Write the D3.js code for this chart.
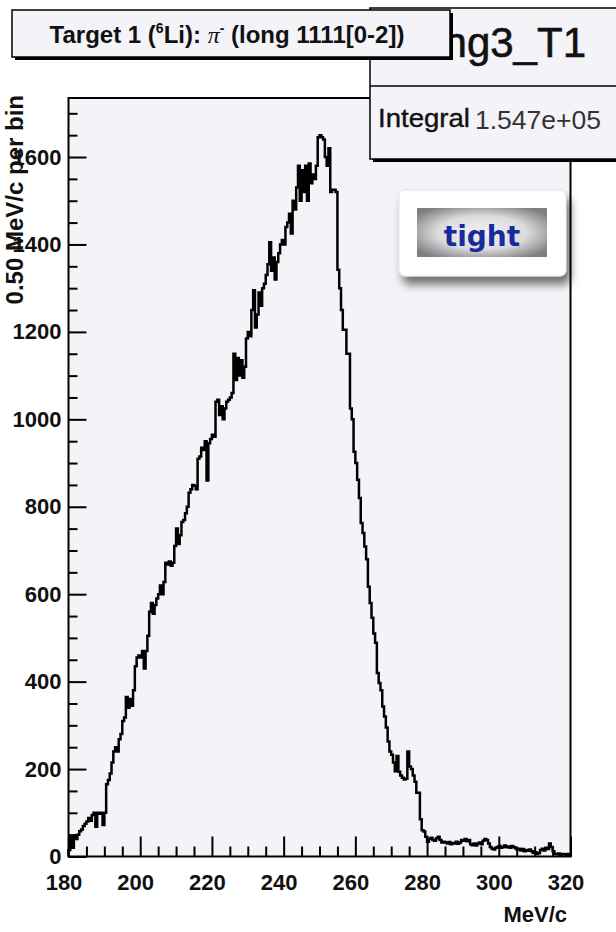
<!DOCTYPE html>
<html><head><meta charset="utf-8">
<script src="https://cdn.jsdelivr.net/npm/d3@7"></script>
<style>html,body{margin:0;padding:0;background:#fff;} svg{display:block;}</style>
</head><body><svg id="c" width="616" height="932"></svg>
<script>
// ---------- data ----------
const binLow = 180, binHigh = 320, binWidth = 0.5;
const counts = [
  15, 45, 20, 48, 40, 50, 58, 62, 70, 75,
  80, 88, 82, 95, 100, 68, 100, 98, 100, 72,
  100, 165, 175, 190, 215, 240, 250, 240, 268, 280,
  310, 318, 365, 340, 360, 345, 380, 435, 455, 460,
  455, 470, 430, 470, 505, 560, 580, 555, 575, 590,
  600, 620, 600, 628, 672, 668, 675, 665, 672, 710,
  750, 715, 735, 765, 770, 785, 800, 832, 840, 850,
  848, 840, 910, 915, 935, 930, 950, 860, 945, 955,
  965, 960, 1040, 1045, 1010, 1030, 1000, 1025, 1040, 1045,
  1050, 1060, 1150, 1090, 1140, 1100, 1135, 1095, 1120, 1185,
  1200, 1190, 1250, 1295, 1210, 1240, 1290, 1260, 1300, 1310,
  1330, 1355, 1405, 1340, 1370, 1320, 1360, 1380, 1400, 1410,
  1400, 1440, 1450, 1470, 1425, 1500, 1480, 1530, 1580, 1500,
  1570, 1520, 1580, 1500, 1585, 1540, 1560, 1550, 1580, 1645,
  1650, 1645, 1640, 1600, 1580, 1620, 1520, 1525, 1525, 1520,
  1342, 1300, 1250, 1205, 1205, 1150, 1150, 1025, 1000, 926,
  900, 862, 820, 763, 740, 709, 680, 617, 580, 546,
  510, 489, 420, 397, 380, 343, 320, 295, 263, 240,
  233, 215, 195, 230, 194, 185, 180, 176, 178, 240,
  206, 200, 185, 171, 146, 146, 85, 60, 57, 45,
  34, 40, 43, 38, 36, 42, 45, 38, 32, 34,
  32, 30, 33, 28, 31, 30, 34, 29, 32, 38,
  36, 40, 35, 38, 28, 26, 30, 25, 30, 32,
  28, 36, 40, 38, 30, 22, 18, 16, 20, 22,
  24, 20, 22, 25, 21, 23, 20, 24, 22, 19,
  16, 18, 14, 17, 12, 15, 13, 16, 12, 8,
  10, 6, 8, 15, 18, 14, 20, 17, 30, 22,
  12, 6, 5, 7, 4, 6, 5, 4, 6, 3
];
const xMajorTicks = [180, 200, 220, 240, 260, 280, 300, 320];
const xMinorTicks = d3.range(185, 320, 5).filter(v => v % 20 !== 0);
const yMajorTicks = [0, 200, 400, 600, 800, 1000, 1200, 1400, 1600];
const yMinorTicks = d3.range(50, 1701, 50).filter(v => v % 200 !== 0);
const yMax = 1735;
const xTitle = "MeV/c";
const yTitle = "0.50 MeV/c per bin";
const histName = "hg3_T1";
const integralLabel = "Integral";
const integralValue = "1.547e+05";
const tagText = "tight";

// ---------- layout ----------
const L = 68.5, R = 570.5, T = 98, B = 856.5;
const bg = "#f4f3f7";
const svg = d3.select("#c");
const x = d3.scaleLinear().domain([binLow, binHigh]).range([L, R]);
const y = d3.scaleLinear().domain([0, yMax]).range([B, T]);
const FONT = "'Liberation Sans', Arial, Helvetica, sans-serif";

svg.append("rect").attr("width", 616).attr("height", 932).attr("fill", "#fff");

// defs
const defs = svg.append("defs");
const rg = defs.append("radialGradient").attr("id", "tg").attr("cx", "50%").attr("cy", "50%").attr("r", "62%");
rg.append("stop").attr("offset", "0%").attr("stop-color", "#f2f2f4");
rg.append("stop").attr("offset", "55%").attr("stop-color", "#dcdcdf");
rg.append("stop").attr("offset", "100%").attr("stop-color", "#7e7e80");
const f = defs.append("filter").attr("id", "sh").attr("x", "-30%").attr("y", "-30%").attr("width", "160%").attr("height", "170%");
f.append("feDropShadow").attr("dx", 4).attr("dy", 8).attr("stdDeviation", 5).attr("flood-color", "#000").attr("flood-opacity", 0.55);

// plot area
svg.append("rect").attr("x", L).attr("y", T).attr("width", R - L).attr("height", B - T).attr("fill", bg);

// histogram
const pts = [[x(binLow), y(0)]];
counts.forEach((c, i) => {
  const lo = binLow + i * binWidth, hi = lo + binWidth;
  pts.push([x(lo), y(c)], [x(hi), y(c)]);
});
pts.push([x(binHigh), y(0)]);
svg.append("path").attr("d", d3.line()(pts)).attr("fill", "none")
  .attr("stroke", "#000").attr("stroke-width", 2.5).attr("stroke-linejoin", "miter");

// axes
function styleAxis(g) {
  g.select(".domain").remove();
  g.selectAll(".tick line").attr("stroke", "#000").attr("stroke-width", 2);
  g.selectAll(".tick text").attr("fill", "#111").attr("font-family", FONT)
    .attr("font-weight", "bold").attr("font-size", 22);
}
svg.append("g").attr("transform", `translate(${L},0)`)
  .call(d3.axisLeft(y).tickValues(yMinorTicks).tickSize(-9).tickFormat("")).call(styleAxis);
svg.append("g").attr("transform", `translate(${L},0)`)
  .call(d3.axisLeft(y).tickValues(yMajorTicks).tickSize(-18).tickPadding(7).tickFormat(d3.format("d"))).call(styleAxis);
svg.append("g").attr("transform", `translate(0,${B})`)
  .call(d3.axisBottom(x).tickValues(xMinorTicks).tickSize(-10).tickFormat("")).call(styleAxis);
const gx = svg.append("g").attr("transform", `translate(0,${B})`)
  .call(d3.axisBottom(x).tickValues(xMajorTicks).tickSize(-20).tickPadding(18).tickFormat(d3.format("d"))).call(styleAxis);
gx.selectAll(".tick text").attr("dx", -5);

// frame
svg.append("rect").attr("x", L).attr("y", T).attr("width", R - L).attr("height", B - T)
  .attr("fill", "none").attr("stroke", "#000").attr("stroke-width", 2);

// axis titles
svg.append("text").attr("x", 567).attr("y", 922).attr("text-anchor", "end")
  .attr("font-family", FONT).attr("font-weight", "bold").attr("font-size", 22).attr("fill", "#111").text(xTitle);
svg.append("text").attr("transform", "translate(23,95) rotate(-90)").attr("text-anchor", "end")
  .attr("font-family", FONT).attr("font-weight", "bold").attr("font-size", 24).attr("fill", "#111").text(yTitle);

// stats box
const sb = svg.append("g");
sb.append("rect").attr("x", 373).attr("y", 11).attr("width", 260).attr("height", 151).attr("fill", "#000");
sb.append("rect").attr("x", 370).attr("y", 8).attr("width", 260).attr("height", 151)
  .attr("fill", bg).attr("stroke", "#000").attr("stroke-width", 1.5);
sb.append("line").attr("x1", 370).attr("x2", 616).attr("y1", 86).attr("y2", 86).attr("stroke", "#000").attr("stroke-width", 1.5);
sb.append("text").attr("x", 586).attr("y", 57).attr("text-anchor", "end")
  .attr("font-family", FONT).attr("font-size", 42).attr("fill", "#111").attr("stroke", "#111").attr("stroke-width", 0.6).text(histName);
sb.append("text").attr("x", 378).attr("y", 127).attr("textLength", 92).attr("lengthAdjust", "spacingAndGlyphs")
  .attr("font-family", FONT).attr("font-size", 26).attr("fill", "#111").attr("stroke", "#111").attr("stroke-width", 0.4).text(integralLabel);
sb.append("text").attr("x", 475).attr("y", 129).attr("textLength", 126).attr("lengthAdjust", "spacingAndGlyphs")
  .attr("font-family", FONT).attr("font-size", 26).attr("fill", "#333").text(integralValue);

// title box
const tb = svg.append("g");
tb.append("rect").attr("x", 15).attr("y", 13).attr("width", 438).attr("height", 47).attr("fill", "#000");
tb.append("rect").attr("x", 12).attr("y", 10).attr("width", 438).attr("height", 47)
  .attr("fill", bg).attr("stroke", "#000").attr("stroke-width", 1.5);
const tt = tb.append("text").attr("x", 227).attr("y", 43).attr("text-anchor", "middle")
  .attr("font-family", FONT).attr("font-weight", "bold").attr("font-size", 24).attr("fill", "#111");
tt.append("tspan").text("Target 1 (");
tt.append("tspan").attr("font-size", 14).attr("dy", -10).text("6");
tt.append("tspan").attr("dy", 10).text("Li): ");
tt.append("tspan").attr("font-family", "'Liberation Serif', serif").attr("font-weight", "normal").attr("font-style", "italic").text("π");
tt.append("tspan").attr("font-size", 14).attr("dy", -10).text("-");
tt.append("tspan").attr("dy", 10).text(" (long 1111[0-2])");

// tag box
const tg = svg.append("g");
tg.append("rect").attr("x", 399).attr("y", 190).attr("width", 167).attr("height", 86).attr("rx", 6)
  .attr("fill", "#fff").attr("stroke", "#e4e4e4").attr("filter", "url(#sh)");
tg.append("rect").attr("x", 417).attr("y", 208).attr("width", 130).attr("height", 49).attr("fill", "url(#tg)");
tg.append("text").attr("x", 482).attr("y", 246).attr("text-anchor", "middle")
  .attr("font-family", "'DejaVu Sans', sans-serif").attr("font-weight", "bold").attr("font-size", 28)
  .attr("fill", "#1a2a9c").text(tagText);
</script></body></html>
